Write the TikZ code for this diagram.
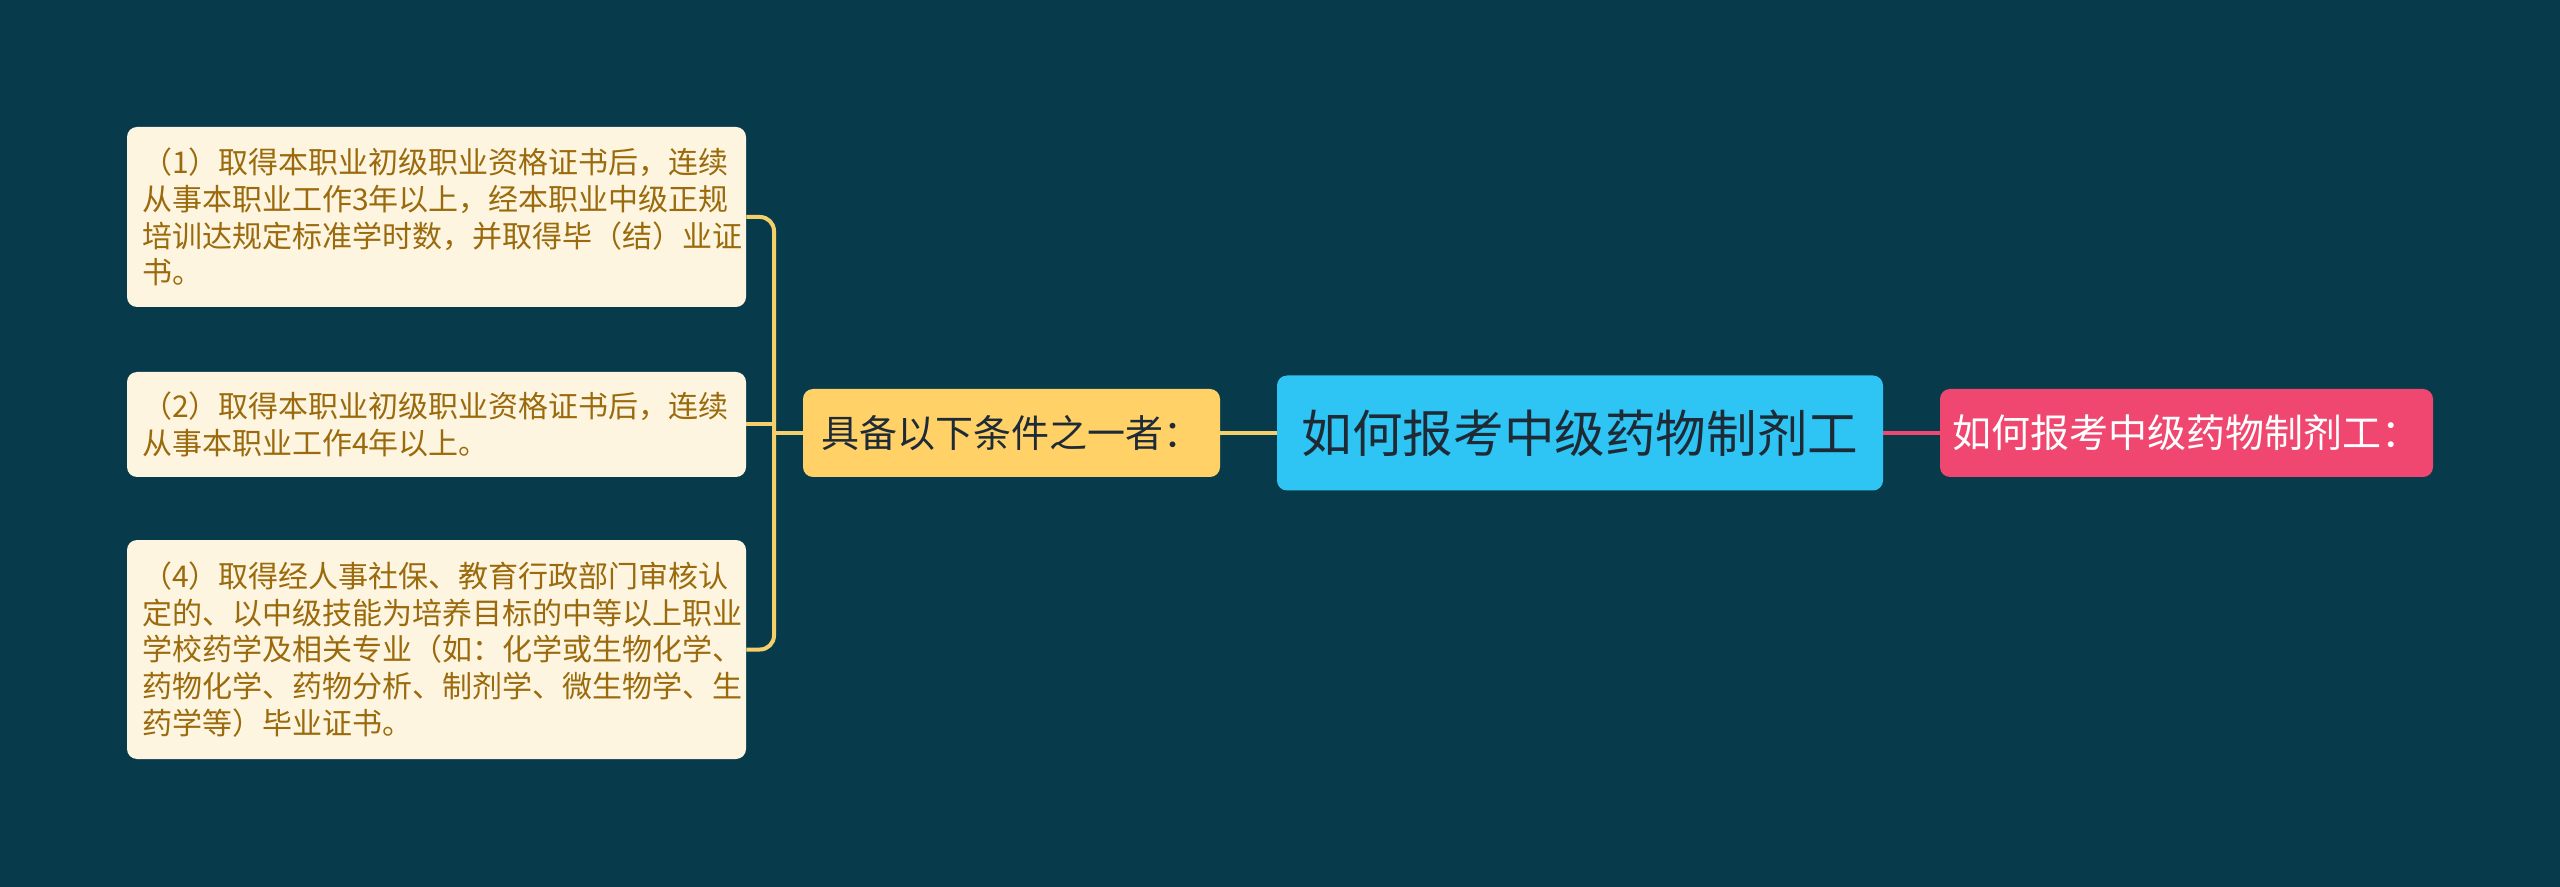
\documentclass[tikz,border=0pt]{standalone}
\usepackage{fontspec}
\setmainfont{Noto Sans CJK SC}
\definecolor{bg}{HTML}{073B4C}
\definecolor{leaffill}{HTML}{FDF5E0}
\definecolor{leaftext}{HTML}{9A6A0C}
\definecolor{yel}{HTML}{FFD166}
\definecolor{brk}{HTML}{F5D06A}
\definecolor{blu}{HTML}{2EC4F3}
\definecolor{pnk}{HTML}{EF476F}
\definecolor{dark}{HTML}{1E2B36}
\tikzset{
  leaf/.style={draw=none, fill=leaffill, rounded corners=5pt, text=leaftext,
    align=left, text width=294.5pt, inner xsep=7.5pt, inner ysep=0pt,
    font=\fontsize{15pt}{18.4pt}\selectfont, anchor=center},
  sub/.style={fill=yel, rounded corners=5pt, text=dark, minimum width=208.5pt,
    minimum height=44pt, inner sep=0pt, font=\fontsize{19pt}{22pt}\selectfont},
  root/.style={fill=blu, rounded corners=5pt, text=dark, minimum width=303pt,
    minimum height=57.5pt, inner sep=0pt, font=\fontsize{25.3pt}{30pt}\selectfont},
  pnode/.style={fill=pnk, rounded corners=5pt, text=white, minimum width=246.5pt,
    minimum height=44pt, inner sep=0pt, font=\fontsize{19.5pt}{22pt}\selectfont},
  brline/.style={draw=brk, line width=2pt},
  pline/.style={draw=pnk, line width=2pt}
}
\begin{document}
\begin{tikzpicture}[x=0.5pt,y=-0.5pt]
\fill[bg] (0,0) rectangle (2560,887);
\useasboundingbox (0,0) rectangle (2560,887);

\node[leaf, minimum height=90pt] (l1) at (436.5,217)
  {（1）取得本职业初级职业资格证书后，连续\\从事本职业工作3年以上，经本职业中级正规\\培训达规定标准学时数，并取得毕（结）业证\\书。};
\node[leaf, minimum height=52.5pt] (l2) at (436.5,424.5)
  {（2）取得本职业初级职业资格证书后，连续\\从事本职业工作4年以上。};
\node[leaf, minimum height=109.5pt] (l3) at (436.5,649.5)
  {（4）取得经人事社保、教育行政部门审核认\\定的、以中级技能为培养目标的中等以上职业\\学校药学及相关专业（如：化学或生物化学、\\药物化学、药物分析、制剂学、微生物学、生\\药学等）毕业证书。};

\node[sub] (y) at (1011.5,433) {具备以下条件之一者：};
\node[root] (c) at (1580,433) {如何报考中级药物制剂工};
\node[pnode] (p) at (2186.5,433) {如何报考中级药物制剂工：};

\coordinate (bx) at (774,433);
\draw[brline, rounded corners=7pt] (l1.east) -| (bx) |- (l3.east);
\draw[brline] (l2.east) -- (l2.east -| bx);
\draw[brline] (bx) -- (y.west);
\draw[brline] (y.east) -- (c.west);
\draw[pline] (c.east) -- (p.west);
\end{tikzpicture}
\end{document}
